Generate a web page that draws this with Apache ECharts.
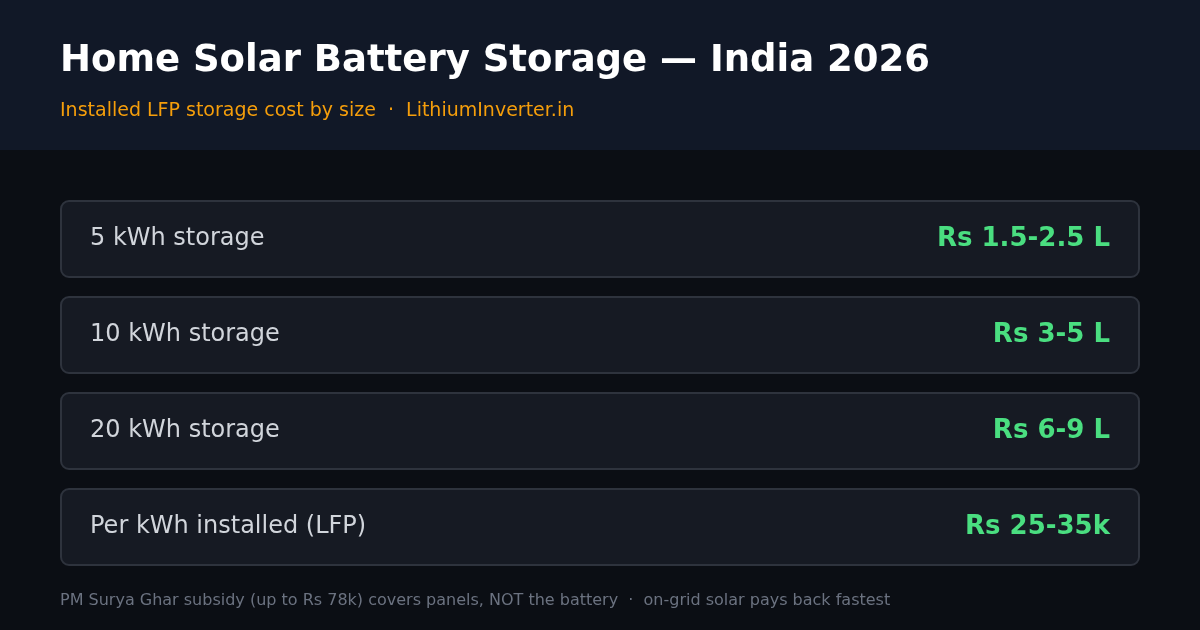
<!DOCTYPE html>
<html>
<head>
<meta charset="utf-8" />
<title>Home Solar Battery Storage</title>
<script src="https://cdn.jsdelivr.net/npm/echarts@6/dist/echarts.min.js"></script>
<style>html,body{margin:0;padding:0;background:#0b0e14;}</style>
</head>
<body>
<div id="main" style="width:1200px;height:630px;"></div>
<script>
var titleText = 'Home Solar Battery Storage \u2014 India 2026';
var subtitleText = 'Installed LFP storage cost by size  \u00b7  LithiumInverter.in';
var footerText = 'PM Surya Ghar subsidy (up to Rs 78k) covers panels, NOT the battery  \u00b7  on-grid solar pays back fastest';
var rowLabels = ['5 kWh storage', '10 kWh storage', '20 kWh storage', 'Per kWh installed (LFP)'];
var rowValues = ['Rs 1.5-2.5 L', 'Rs 3-5 L', 'Rs 6-9 L', 'Rs 25-35k'];

var font = '"DejaVu Sans", sans-serif';
var els = [
  {type:'rect', shape:{x:0,y:0,width:1200,height:630}, style:{fill:'#0b0e14'}},
  {type:'rect', shape:{x:0,y:0,width:1200,height:150}, style:{fill:'#111827'}},
  {type:'text', x:60, y:61, style:{text:titleText, fill:'#ffffff', font:'bold 37px ' + font, textVerticalAlign:'middle'}},
  {type:'text', x:60, y:111, style:{text:subtitleText, fill:'#f59e0b', font:'19px ' + font, textVerticalAlign:'middle'}},
  {type:'text', x:60, y:601, style:{text:footerText, fill:'#6b7280', font:'16px ' + font, textVerticalAlign:'middle'}}
];
rowLabels.forEach(function (label, i) {
  var top = 201 + i * 96;
  els.push({type:'rect', shape:{x:61,y:top,width:1078,height:76,r:8},
    style:{fill:'#161a23', stroke:'#2e333d', lineWidth:2}});
  els.push({type:'text', x:90, y:top + 38, style:{text:label, fill:'#d1d5db', font:'24px ' + font, textVerticalAlign:'middle'}});
  els.push({type:'text', x:1110, y:top + 38, style:{text:rowValues[i], fill:'#4ade80', font:'bold 26px ' + font, textAlign:'right', textVerticalAlign:'middle'}});
});

var myChart = echarts.init(document.getElementById('main'));
myChart.setOption({backgroundColor:'#0b0e14', animation:false, graphic:{elements:els}});
</script>
</body>
</html>
